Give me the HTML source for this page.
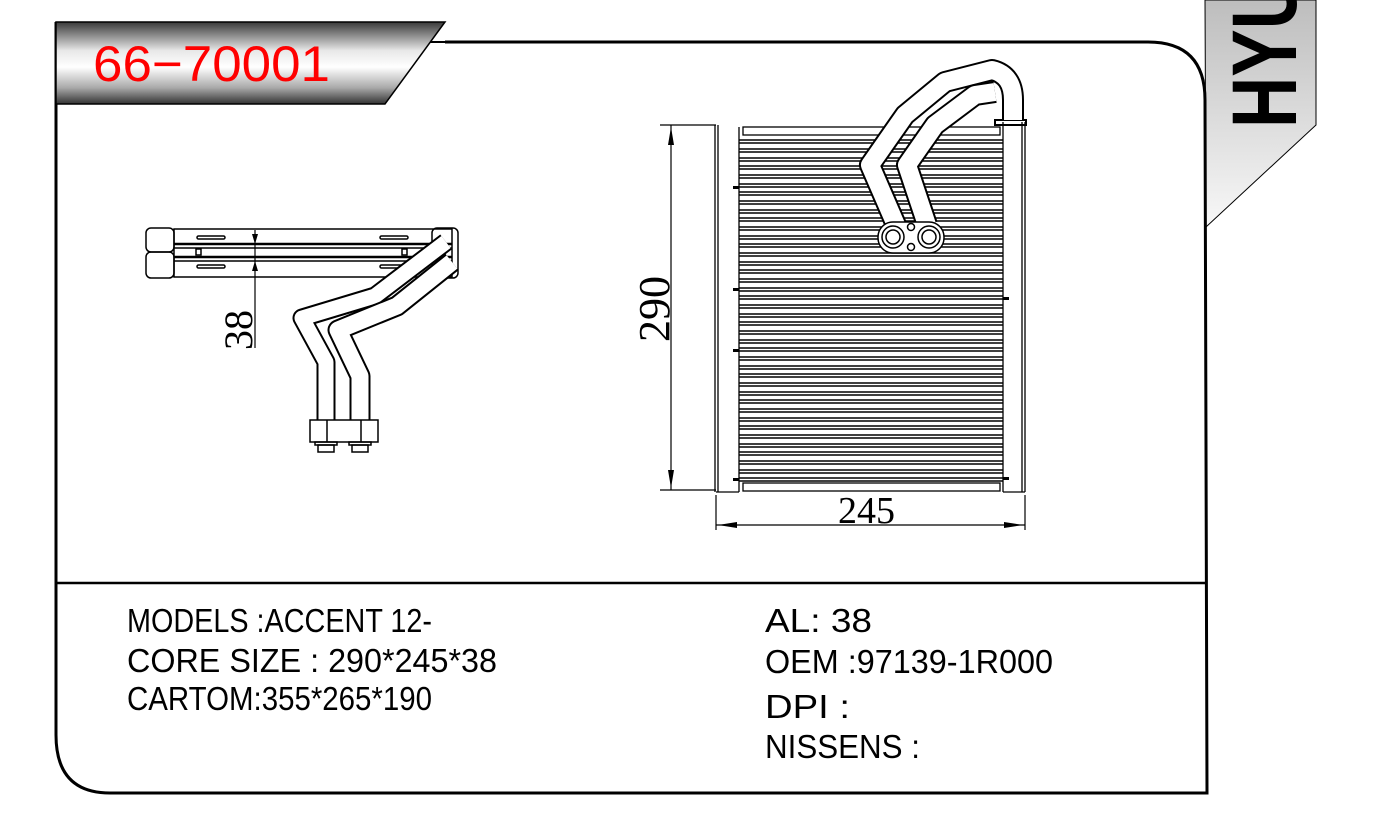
<!DOCTYPE html>
<html><head><meta charset="utf-8"><style>
html,body{margin:0;padding:0;background:#fff;width:1399px;height:815px;overflow:hidden}
svg{display:block}
.t{font-family:"Liberation Sans",sans-serif;font-size:33px;fill:#000}
.s{font-family:"Liberation Serif",serif;fill:#000}
</style></head><body>
<svg width="1399" height="815" viewBox="0 0 1399 815">
<defs>
<linearGradient id="g1" x1="0" y1="0" x2="0" y2="1">
<stop offset="0" stop-color="#3a3a3a"/><stop offset="0.35" stop-color="#e8e8e8"/><stop offset="0.55" stop-color="#ffffff"/><stop offset="0.8" stop-color="#aaa"/><stop offset="1" stop-color="#333"/>
</linearGradient>
<linearGradient id="g2" x1="0" y1="0" x2="0" y2="1">
<stop offset="0" stop-color="#bdbdbd"/><stop offset="1" stop-color="#f8f8f8"/>
</linearGradient>
</defs>
<!-- right tab -->
<path d="M1205 0 L1316 0 L1316 125 L1206 227 Z" fill="url(#g2)" stroke="#000" stroke-width="1"/>
<text transform="translate(1296,128) rotate(-90)" font-family="Liberation Sans,sans-serif" font-weight="bold" font-size="92" fill="#000" textLength="150" lengthAdjust="spacingAndGlyphs">HYU</text>
<!-- frame -->
<path d="M445 42 L1148 42 Q1205 42 1205 100 L1207 793 L110 793 Q56 793 56 735 L56 22" fill="none" stroke="#000" stroke-width="3"/>
<line x1="56" y1="583" x2="1207" y2="583" stroke="#000" stroke-width="2.5"/>
<!-- title tab -->
<path d="M56 22 L445 22 L385 104 L56 104 Z" fill="url(#g1)" stroke="#000" stroke-width="1.5"/>
<line x1="430" y1="42" x2="445" y2="42" stroke="#000" stroke-width="2"/>
<text x="93" y="81" font-family="Liberation Sans,sans-serif" font-size="50" fill="#f00" textLength="237" lengthAdjust="spacingAndGlyphs">66−70001</text>

<!-- left drawing: headers -->
<g fill="none" stroke="#000" stroke-width="1.5">
<rect x="146" y="228" width="28" height="24" rx="5"/>
<rect x="146" y="252" width="28" height="26" rx="5"/>
<rect x="174" y="229" width="278" height="48"/>
<line x1="174" y1="244" x2="452" y2="244" stroke-width="2.5"/>
<line x1="174" y1="248" x2="452" y2="248"/>
<line x1="174" y1="257" x2="452" y2="257" stroke-width="2.5"/>
<line x1="174" y1="261" x2="452" y2="261"/>
<rect x="197" y="236" width="28" height="3" rx="1.5"/>
<rect x="380" y="236" width="28" height="3" rx="1.5"/>
<rect x="197" y="265" width="28" height="3" rx="1.5"/>
<rect x="380" y="265" width="28" height="3" rx="1.5"/>
<rect x="196" y="249" width="5" height="6"/>
<rect x="402" y="249" width="5" height="6"/>
<rect x="432" y="228" width="26" height="50" rx="5"/>
</g>
<!-- 38 dimension -->
<line x1="255" y1="230" x2="255" y2="348" stroke="#000" stroke-width="1.2"/>
<path d="M252 234 L255 244 L258 234 Z M252 271 L255 261 L258 271 Z" fill="#000"/>
<text class="s" font-size="40" transform="translate(252,350) rotate(-90)">38</text>
<!-- left pipes -->
<g fill="none" stroke-linejoin="round" stroke-linecap="butt">
<path d="M326 420 L326 362 L302 318 L375 296 L446 242" stroke="#000" stroke-width="19"/>
<path d="M326 420 L326 362 L302 318 L375 296 L446 242" stroke="#fff" stroke-width="15"/>
<path d="M360 420 L360 376 L338 330 L397 306 L452 262" stroke="#000" stroke-width="21"/>
<path d="M360 420 L360 376 L338 330 L397 306 L452 262" stroke="#fff" stroke-width="17"/>
</g>
<g fill="none" stroke="#000" stroke-width="1.5">
<rect x="310" y="420" width="68" height="22"/>
<line x1="327" y1="420" x2="327" y2="442"/><line x1="361" y1="420" x2="361" y2="442"/>
<rect x="315" y="442" width="22" height="3"/><rect x="349" y="442" width="22" height="3"/>
<rect x="318" y="445" width="16" height="7"/><rect x="352" y="445" width="16" height="7"/>
</g>

<!-- right drawing -->
<g fill="none" stroke="#000" stroke-width="1.3">
<line x1="715" y1="125" x2="715" y2="492"/><line x1="718" y1="125" x2="718" y2="492"/>
<line x1="716" y1="492" x2="739" y2="492"/>
<line x1="739" y1="127" x2="739" y2="492"/>
<rect x="743" y="127" width="257" height="8"/>
<rect x="743" y="483" width="257" height="8"/>
<line x1="1003" y1="122" x2="1003" y2="492"/>
<line x1="1022" y1="122" x2="1022" y2="492"/><line x1="1025" y1="122" x2="1025" y2="492"/>
<line x1="1003" y1="492" x2="1025" y2="492"/>
<rect x="995" y="120" width="31" height="5" stroke-width="2"/>
</g>
<g stroke="#000" stroke-width="1.4">
<path d="M739 140H1003M739 143H1003M739 149H1003M739 152H1003M739 158H1003M739 161H1003M739 166H1003M739 169H1003M739 175H1003M739 178H1003M739 184H1003M739 187H1003M739 192H1003M739 195H1003M739 201H1003M739 204H1003M739 210H1003M739 213H1003M739 218H1003M739 221H1003M739 227H1003M739 230H1003M739 236H1003M739 239H1003M739 244H1003M739 247H1003M739 253H1003M739 256H1003M739 262H1003M739 265H1003M739 270H1003M739 273H1003M739 279H1003M739 282H1003M739 288H1003M739 291H1003M739 296H1003M739 299H1003M739 305H1003M739 308H1003M739 314H1003M739 317H1003M739 322H1003M739 325H1003M739 331H1003M739 334H1003M739 340H1003M739 343H1003M739 348H1003M739 351H1003M739 357H1003M739 360H1003M739 366H1003M739 369H1003M739 374H1003M739 377H1003M739 383H1003M739 386H1003M739 392H1003M739 395H1003M739 400H1003M739 403H1003M739 409H1003M739 412H1003M739 418H1003M739 421H1003M739 426H1003M739 429H1003M739 435H1003M739 438H1003M739 444H1003M739 447H1003M739 452H1003M739 455H1003M739 461H1003M739 464H1003M739 470H1003M739 473H1003M739 478H1003M739 481H1003"/>
</g>
<g fill="#000">
<rect x="733" y="186" width="6" height="3"/><rect x="733" y="288" width="6" height="3"/><rect x="733" y="349" width="6" height="3"/><rect x="733" y="478" width="6" height="3"/>
<rect x="1003" y="297" width="6" height="3"/><rect x="1003" y="477" width="6" height="3"/>
</g>
<!-- right pipes -->
<g fill="none" stroke-linejoin="round">
<path d="M896 225 L870 165 L905 115 L945 82 L992 70 Q1013 75 1013 100 L1013 120" stroke="#000" stroke-width="22"/>
<path d="M896 225 L870 165 L905 115 L945 82 L992 70 Q1013 75 1013 100 L1013 120" stroke="#fff" stroke-width="18"/>
<path d="M927 225 L907 165 L935 125 L975 95 L995 92" stroke="#000" stroke-width="22"/>
<path d="M927 225 L907 165 L935 125 L975 95 L995 92" stroke="#fff" stroke-width="18"/>
</g>
<g fill="#fff" stroke="#000" stroke-width="1.5">
<rect x="878" y="222" width="66" height="31" rx="15"/>
<circle cx="893" cy="237" r="11"/><circle cx="893" cy="237" r="7"/>
<circle cx="929" cy="237" r="11"/><circle cx="929" cy="237" r="7"/>
<circle cx="911" cy="227" r="3.5"/><circle cx="911" cy="247" r="3.5"/>
</g>
<!-- dims -->
<g stroke="#000" stroke-width="1.2">
<line x1="660" y1="125" x2="716" y2="125"/><line x1="660" y1="490" x2="716" y2="490"/>
<line x1="671" y1="125" x2="671" y2="490"/>
<line x1="716" y1="495" x2="716" y2="530"/><line x1="1025" y1="495" x2="1025" y2="530"/>
<line x1="716" y1="525" x2="1025" y2="525"/>
</g>
<path d="M668 145 L671 127 L674 145 Z M668 470 L671 488 L674 470 Z M737 522 L718 525 L737 528 Z M1004 522 L1023 525 L1004 528 Z" fill="#000"/>
<text class="s" font-size="44" transform="translate(669,342) rotate(-90)">290</text>
<text class="s" font-size="38" x="838" y="523">245</text>

<!-- text -->
<text class="t" x="127" y="632" textLength="305" lengthAdjust="spacingAndGlyphs">MODELS :ACCENT 12-</text>
<text class="t" x="127" y="672" textLength="370" lengthAdjust="spacingAndGlyphs">CORE SIZE : 290*245*38</text>
<text class="t" x="127" y="710" textLength="305" lengthAdjust="spacingAndGlyphs">CARTOM:355*265*190</text>
<text class="t" x="765" y="632" textLength="107" lengthAdjust="spacingAndGlyphs">AL: 38</text>
<text class="t" x="765" y="673" textLength="288" lengthAdjust="spacingAndGlyphs">OEM :97139-1R000</text>
<text class="t" x="765" y="718" textLength="85" lengthAdjust="spacingAndGlyphs">DPI :</text>
<text class="t" x="765" y="758" textLength="155" lengthAdjust="spacingAndGlyphs">NISSENS :</text>
</svg>
</body></html>
